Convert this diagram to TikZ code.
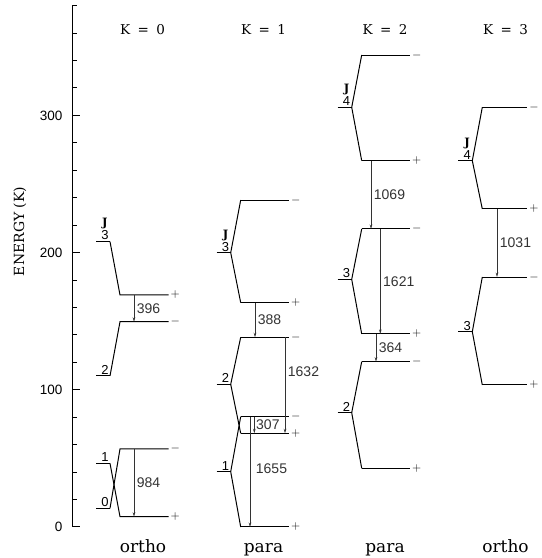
\documentclass[tikz,border=0pt]{standalone}
\usepackage{fontspec}
\setmainfont{DejaVu Serif}
\newfontfamily\numfont{Liberation Sans}
\usetikzlibrary{arrows.meta, positioning}
\newcommand{\jl}{{\rmfamily\bfseries\fontsize{11.5}{13}\selectfont J}}

\begin{document}
\begin{tikzpicture}[
    x=1pt, y=1.372pt,
    lvl/.style={line width=1pt},
    arr/.style={-{Stealth[length=4.5pt, width=2.6pt]}, line width=0.8pt, black!80},
    trn/.style={right, inner sep=2.5pt, font={\numfont\fontsize{14}{14}\selectfont}},
    sgn/.style={right, inner sep=1.5pt, font=\fontsize{12.5}{12.5}\selectfont},
    jnum/.style={anchor=south east, inner sep=1pt, align=center, font={\numfont\fontsize{13}{13}\selectfont}},
    axn/.style={anchor=east, inner sep=1.5pt, font={\numfont\fontsize{13.5}{13.5}\selectfont}},
    head/.style={anchor=base, font=\fontsize{13.5}{13.5}\selectfont},
    foot/.style={anchor=base, font=\fontsize{17}{17}\selectfont},
]
\useasboundingbox (0,-22.6) rectangle (541,384.1);

% axis
\draw[lvl] (72,0) -- (72,380);
\foreach \e in {0,20,...,380} \draw[lvl] (72,\e) -- ++(5,0);
\foreach \e in {0,100,200,300} \draw[lvl] (72,\e) -- ++(8.3,0);
\node[axn] (e0) at (64,0) {0};
\node[axn] (e1) at (64,100) {100};
\node[axn] (e2) at (64,200) {200};
\node[axn] (e3) at (64,300) {300};
\node[rotate=90, font=\fontsize{14}{14}\selectfont] (ylab) at (20,215.4) {ENERGY (K)};

% headers
\node[head] (h0) at (142.5,359.3) {K\hspace{0.55em}=\hspace{0.55em}0};
\node[head] (h1) at (263.5,359.3) {K\hspace{0.55em}=\hspace{0.55em}1};
\node[head] (h2) at (385,359.3) {K\hspace{0.55em}=\hspace{0.55em}2};
\node[head] (h3) at (505.5,359.3) {K\hspace{0.55em}=\hspace{0.55em}3};
\node[foot] (f0) at (143,-18.6) {ortho};
\node[foot] (f1) at (263.5,-18.6) {para};
\node[foot] (f2) at (385,-18.6) {para};
\node[foot] (f3) at (505.5,-18.6) {ortho};

% K = 0
\coordinate (k0j3) at (110,208.0);
\coordinate (k0j2) at (110,110.1);
\coordinate (k0j1) at (110,46.4);
\coordinate (k0j0) at (110,13.6);
\coordinate (k0p3) at (120,169.1);
\coordinate (k0m2) at (120,149.6);
\coordinate (k0p1) at (120,7.5);
\coordinate (k0m0) at (120,56.9);
\draw[lvl] ([xshift=-14pt]k0j3) -- (k0j3) node[jnum] {\jl\\3};
\draw[lvl] ([xshift=-14pt]k0j2) -- (k0j2) node[jnum] {2};
\draw[lvl] ([xshift=-14pt]k0j1) -- (k0j1) node[jnum] {1};
\draw[lvl] ([xshift=-14pt]k0j0) -- (k0j0) node[jnum] {0};
\draw[lvl] (k0j3) -- (k0p3) -- ++(48.5,0) node[sgn] {$+$};
\draw[lvl] (k0j2) -- (k0m2) -- ++(48.5,0) node[sgn] {$-$};
\draw[lvl] (k0j1) -- (k0p1) -- ++(48.5,0) node[sgn] {$+$};
\draw[lvl] (k0j0) -- (k0m0) -- ++(48.5,0) node[sgn] {$-$};
\draw[arr] ([xshift=14pt]k0p3) -- ([xshift=14pt]k0m2) node[trn, midway] {396};
\draw[arr] ([xshift=14pt]k0m0) -- ([xshift=14pt]k0p1) node[trn, midway] {984};

% K = 1
\coordinate (k1j3) at (230.7,199.9);
\coordinate (k1j2) at (230.7,104.0);
\coordinate (k1j1) at (230.7,40.3);
\coordinate (k1m3) at (240.7,238.3);
\coordinate (k1p3) at (240.7,163.5);
\coordinate (k1m2) at (240.7,138.3);
\coordinate (k1p2) at (240.7,68.3);
\coordinate (k1m1) at (240.7,80.4);
\coordinate (k1p1) at (240.7,0);
\draw[lvl] ([xshift=-14pt]k1j3) -- (k1j3) node[jnum] {\jl\\3};
\draw[lvl] ([xshift=-14pt]k1j2) -- (k1j2) node[jnum] {2};
\draw[lvl] ([xshift=-14pt]k1j1) -- (k1j1) node[jnum] {1};
\draw[lvl] (k1m3) -- (k1j3) -- (k1p3);
\draw[lvl] (k1m2) -- (k1j2) -- (k1p2);
\draw[lvl] (k1m1) -- (k1j1) -- (k1p1);
\draw[lvl] (k1m3) -- ++(48.5,0) node[sgn] {$-$};
\draw[lvl] (k1p3) -- ++(48.5,0) node[sgn] {$+$};
\draw[lvl] (k1m2) -- ++(48.5,0) node[sgn] {$-$};
\draw[lvl] (k1p2) -- ++(48.5,0) node[sgn] {$+$};
\draw[lvl] (k1m1) -- ++(48.5,0) node[sgn] {$-$};
\draw[lvl] (k1p1) -- ++(48.5,0) node[sgn] {$+$};
\draw[arr] ([xshift=14.3pt]k1p3) -- ([xshift=14.3pt]k1m2) node[trn, midway] {388};
\draw[arr] ([xshift=44.3pt]k1m2) -- ([xshift=44.3pt]k1p2) node[trn, pos=0.36] {1632};
\draw[arr] ([xshift=13.6pt]k1m1) -- ([xshift=13.6pt]k1p2) node[trn, midway, inner sep=1.5pt] {307};
\draw[arr] ([xshift=9.3pt]k1m1) -- ([xshift=9.3pt]k1p1) node[trn, pos=0.47, xshift=3pt] {1655};

% K = 2
\coordinate (k2j4) at (351.7,305.9);
\coordinate (k2j3) at (351.7,180.5);
\coordinate (k2j2) at (351.7,83.3);
\coordinate (k2m4) at (361.7,344.0);
\coordinate (k2p4) at (361.7,267.0);
\coordinate (k2m3) at (361.7,217.2);
\coordinate (k2p3) at (361.7,140.7);
\coordinate (k2m2) at (361.7,120.5);
\coordinate (k2p2) at (361.7,42.8);
\draw[lvl] ([xshift=-14pt]k2j4) -- (k2j4) node[jnum] {\jl\\4};
\draw[lvl] ([xshift=-14pt]k2j3) -- (k2j3) node[jnum] {3};
\draw[lvl] ([xshift=-14pt]k2j2) -- (k2j2) node[jnum] {2};
\draw[lvl] (k2m4) -- (k2j4) -- (k2p4);
\draw[lvl] (k2m3) -- (k2j3) -- (k2p3);
\draw[lvl] (k2m2) -- (k2j2) -- (k2p2);
\draw[lvl] (k2m4) -- ++(48.5,0) node[sgn] {$-$};
\draw[lvl] (k2p4) -- ++(48.5,0) node[sgn] {$+$};
\draw[lvl] (k2m3) -- ++(48.5,0) node[sgn] {$-$};
\draw[lvl] (k2p3) -- ++(48.5,0) node[sgn] {$+$};
\draw[lvl] (k2m2) -- ++(48.5,0) node[sgn] {$-$};
\draw[lvl] (k2p2) -- ++(48.5,0) node[sgn] {$+$};
\draw[arr] ([xshift=9.3pt]k2p4) -- ([xshift=9.3pt]k2m3) node[trn, midway] {1069};
\draw[arr] ([xshift=18.6pt]k2m3) -- ([xshift=18.6pt]k2p3) node[trn, midway] {1621};
\draw[arr] ([xshift=14.3pt]k2p3) -- ([xshift=14.3pt]k2m2) node[trn, midway] {364};

% K = 3
\coordinate (k3j4) at (472.3,267.0);
\coordinate (k3j3) at (472.3,142.3);
\coordinate (k3m4) at (482.3,305.9);
\coordinate (k3p4) at (482.3,231.8);
\coordinate (k3m3) at (482.3,182.2);
\coordinate (k3p3) at (482.3,103.5);
\draw[lvl] ([xshift=-14pt]k3j4) -- (k3j4) node[jnum] {\jl\\4};
\draw[lvl] ([xshift=-14pt]k3j3) -- (k3j3) node[jnum] {3};
\draw[lvl] (k3m4) -- (k3j4) -- (k3p4);
\draw[lvl] (k3m3) -- (k3j3) -- (k3p3);
\draw[lvl] (k3m4) -- ++(45,0) node[sgn] {$-$};
\draw[lvl] (k3p4) -- ++(45,0) node[sgn] {$+$};
\draw[lvl] (k3m3) -- ++(45,0) node[sgn] {$-$};
\draw[lvl] (k3p3) -- ++(45,0) node[sgn] {$+$};
\draw[arr] ([xshift=14.7pt]k3p4) -- ([xshift=14.7pt]k3m3) node[trn, midway] {1031};

\end{tikzpicture}
\end{document}
